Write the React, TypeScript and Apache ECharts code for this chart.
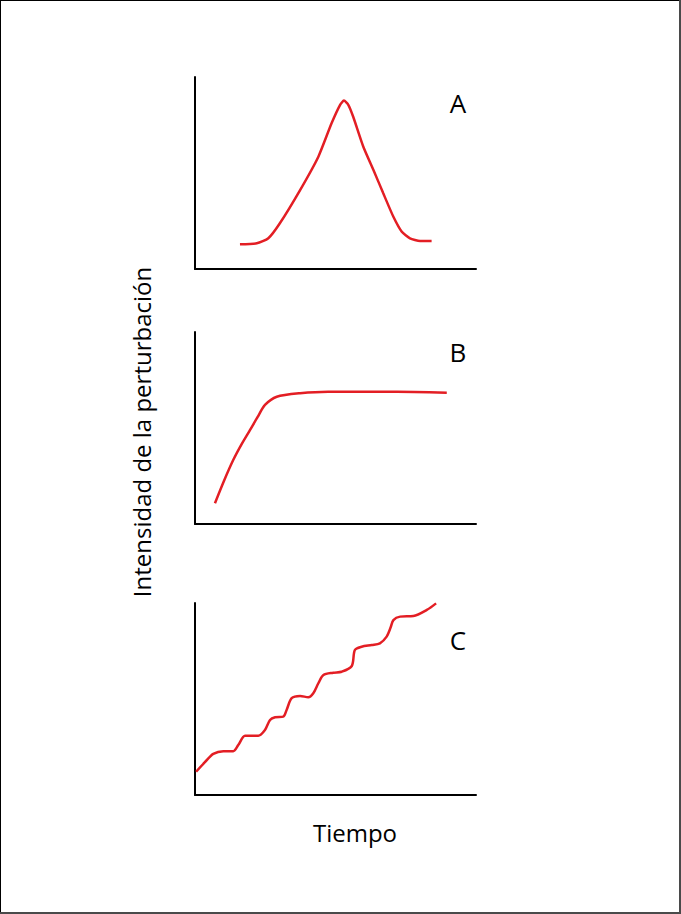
import React, { useEffect, useRef } from "react";
import * as echarts from "echarts";

// Panel A: rise and fall (pulse)
const aX = [16.0, 22.0, 26.1, 30.2, 37.4, 43.9, 48.6, 51.6, 53.0, 54.6, 56.3, 59.9, 63.5, 67.0, 70.6, 73.6, 76.5, 80.1, 84.2];
const aY = [12.9, 13.4, 16.0, 23.8, 41.1, 58.5, 75.9, 85.4, 87.7, 85.4, 79.3, 63.7, 51.6, 39.4, 27.2, 19.4, 16.0, 14.6, 14.6];

// Panel B: rapid rise then plateau
const bX = [7.1, 10.3, 13.6, 16.6, 19.6, 22.3, 24.9, 29.1, 37.4, 47.4, 65.8, 78.0, 89.6];
const bY = [10.8, 22.4, 33.3, 41.6, 49.0, 55.8, 62.0, 66.3, 68.1, 68.9, 68.9, 68.8, 68.4];

// Panel C: stepwise increase
const cX = [0.4, 3.6, 6.5, 10.1, 13.6, 15.4, 17.8, 20.2, 22.5, 24.9, 26.7, 28.5, 31.4, 32.6, 34.4, 37.4, 40.3, 42.1, 43.9, 45.7, 49.2, 52.2, 55.8, 56.9, 59.3, 62.9, 65.8, 68.2, 69.6, 70.6, 73.0, 77.7, 82.5, 85.8];
const cY = [12.1, 17.2, 21.4, 22.8, 22.8, 26.0, 30.9, 30.9, 30.9, 33.9, 39.1, 40.5, 40.8, 44.3, 50.4, 51.6, 50.9, 53.0, 58.2, 62.5, 63.7, 64.2, 67.2, 75.5, 77.2, 78.1, 79.0, 82.5, 87.2, 91.1, 92.9, 93.2, 96.4, 99.8];

const panelLabels = ["A", "B", "C"];
const yTitle = "Intensidad de la perturbación";
const xTitle = "Tiempo";

const FONT = "'Open Sans', 'Noto Sans', sans-serif";

function zip(xs: number[], ys: number[]) {
  return xs.map((x, i) => [x, ys[i]]);
}

export default function App() {
  const ref = useRef<HTMLDivElement>(null);
  useEffect(() => {
    if (!ref.current) return;
    const chart = echarts.init(ref.current, undefined, { renderer: "svg" });
    const grids = [
      { left: 195, top: 77, width: 281, height: 192 },
      { left: 195, top: 332, width: 281, height: 192 },
      { left: 195, top: 603, width: 281, height: 192 },
    ];
    const axisCommon = {
      type: "value" as const,
      min: 0,
      max: 100,
      axisLine: { show: true, onZero: false, lineStyle: { color: "#000", width: 2 } },
      axisTick: { show: false },
      axisLabel: { show: false },
      splitLine: { show: false },
    };
    const datasets = [zip(aX, aY), zip(bX, bY), zip(cX, cY)];
    const smoothness = [0.2, 0.25, 0.3];
    const labelY = [103, 352, 640];
    chart.setOption({
      animation: false,
      backgroundColor: "#fff",
      grid: grids.map((g) => ({ ...g, containLabel: false })),
      xAxis: grids.map((_, i) => ({ ...axisCommon, gridIndex: i, position: "bottom" })),
      yAxis: grids.map((_, i) => ({ ...axisCommon, gridIndex: i, position: "left" })),
      series: datasets.map((d, i) => ({
        type: "line",
        xAxisIndex: i,
        yAxisIndex: i,
        data: d,
        smooth: smoothness[i],
        showSymbol: false,
        symbol: "none",
        lineStyle: { color: "#e31e24", width: 2.5 },
        silent: true,
      })),
      graphic: [
        { type: "rect", shape: { x: 0, y: 0, width: 681, height: 1 }, style: { fill: "#000" } },
        { type: "rect", shape: { x: 0, y: 0, width: 1, height: 914 }, style: { fill: "#000" } },
        { type: "rect", shape: { x: 679, y: 0, width: 2, height: 914 }, style: { fill: "#4a4a4a" } },
        { type: "rect", shape: { x: 0, y: 912, width: 681, height: 2 }, style: { fill: "#4a4a4a" } },
        ...panelLabels.map((t, i) => ({
          type: "text",
          x: 458,
          y: labelY[i],
          style: { text: t, fill: "#000", fontSize: 26, fontFamily: FONT, align: "center", verticalAlign: "middle" },
        })),
        {
          type: "text",
          x: 141,
          y: 432,
          rotation: Math.PI / 2,
          style: { text: yTitle, fill: "#000", fontSize: 24, fontFamily: FONT, align: "center", verticalAlign: "middle" },
        },
        {
          type: "text",
          x: 355,
          y: 832,
          style: { text: xTitle, fill: "#000", fontSize: 24, fontFamily: FONT, align: "center", verticalAlign: "middle" },
        },
      ],
    });
    return () => chart.dispose();
  }, []);
  return (
    <div
      ref={ref}
      style={{ position: "absolute", left: 0, top: 0, width: 681, height: 914, background: "#fff" }}
    />
  );
}
